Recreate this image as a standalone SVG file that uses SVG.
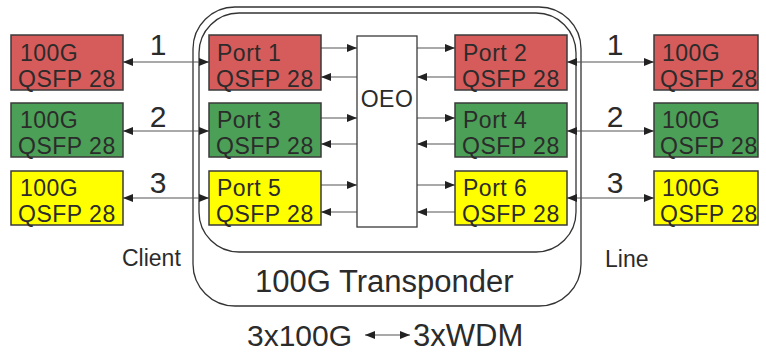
<svg xmlns="http://www.w3.org/2000/svg" width="766" height="356" viewBox="0 0 766 356">
<defs>
<style>
text{font-family:"Liberation Sans",Arial,sans-serif;fill:#2b2b2b}
.bx{stroke:#3a3a3a;stroke-width:1.5}
.red{fill:#d65b5b}.grn{fill:#4b9f56}.yel{fill:#ffff00}
.t{font-size:23px;letter-spacing:0.5px}
.n{font-size:30px}
.c{fill:none;stroke:#555;stroke-width:1.2}
.frame{fill:none;stroke:#333;stroke-width:1.3}
</style>
<marker id="ah" viewBox="0 0 10 8" refX="10" refY="4" markerWidth="10" markerHeight="8" markerUnits="userSpaceOnUse" orient="auto-start-reverse">
<path d="M0,0 L10,4 L0,8 z" fill="#222"/>
</marker>
</defs>
<rect width="766" height="356" fill="#fff"/>
<g id="frames">
<rect class="frame" x="193" y="7" width="388" height="299" rx="42"/>
<rect class="frame" x="199" y="13" width="377" height="239" rx="40"/>
</g>
<g id="connectors">
<line class="c" x1="123" y1="62" x2="209" y2="62" marker-start="url(#ah)" marker-end="url(#ah)"/>
<line class="c" x1="123" y1="131" x2="209" y2="131" marker-start="url(#ah)" marker-end="url(#ah)"/>
<line class="c" x1="123" y1="198" x2="209" y2="198" marker-start="url(#ah)" marker-end="url(#ah)"/>
<line class="c" x1="567" y1="62" x2="654" y2="62" marker-start="url(#ah)" marker-end="url(#ah)"/>
<line class="c" x1="567" y1="131" x2="654" y2="131" marker-start="url(#ah)" marker-end="url(#ah)"/>
<line class="c" x1="567" y1="198" x2="654" y2="198" marker-start="url(#ah)" marker-end="url(#ah)"/>
<line class="c" x1="321" y1="48" x2="357" y2="48" marker-end="url(#ah)"/>
<line class="c" x1="357" y1="77" x2="321" y2="77" marker-end="url(#ah)"/>
<line class="c" x1="321" y1="118" x2="357" y2="118" marker-end="url(#ah)"/>
<line class="c" x1="357" y1="144" x2="321" y2="144" marker-end="url(#ah)"/>
<line class="c" x1="321" y1="185" x2="357" y2="185" marker-end="url(#ah)"/>
<line class="c" x1="357" y1="212" x2="321" y2="212" marker-end="url(#ah)"/>
<line class="c" x1="417" y1="48" x2="455" y2="48" marker-end="url(#ah)"/>
<line class="c" x1="455" y1="77" x2="417" y2="77" marker-end="url(#ah)"/>
<line class="c" x1="417" y1="118" x2="455" y2="118" marker-end="url(#ah)"/>
<line class="c" x1="455" y1="144" x2="417" y2="144" marker-end="url(#ah)"/>
<line class="c" x1="417" y1="185" x2="455" y2="185" marker-end="url(#ah)"/>
<line class="c" x1="455" y1="212" x2="417" y2="212" marker-end="url(#ah)"/>
<line class="c" x1="365" y1="335" x2="410" y2="335" marker-start="url(#ah)" marker-end="url(#ah)"/>
<text class="n" x="158" y="55" text-anchor="middle">1</text>
<text class="n" x="158" y="127" text-anchor="middle">2</text>
<text class="n" x="158" y="193" text-anchor="middle">3</text>
<text class="n" x="615" y="55" text-anchor="middle">1</text>
<text class="n" x="615" y="127" text-anchor="middle">2</text>
<text class="n" x="615" y="193" text-anchor="middle">3</text>
</g>
<g id="c1"><rect class="bx red" x="11" y="35" width="112" height="55"/><text class="t"><tspan x="20" y="61">100G</tspan><tspan x="18" y="87">QSFP 28</tspan></text></g>
<g id="c2"><rect class="bx grn" x="11" y="103" width="112" height="54"/><text class="t"><tspan x="20" y="128">100G</tspan><tspan x="18" y="154">QSFP 28</tspan></text></g>
<g id="c3"><rect class="bx yel" x="11" y="171" width="112" height="54"/><text class="t"><tspan x="20" y="196">100G</tspan><tspan x="18" y="222">QSFP 28</tspan></text></g>
<g id="p1"><rect class="bx red" x="209" y="35" width="112" height="55"/><text class="t"><tspan x="217" y="61">Port 1</tspan><tspan x="216" y="87">QSFP 28</tspan></text></g>
<g id="p3"><rect class="bx grn" x="209" y="103" width="112" height="54"/><text class="t"><tspan x="217" y="128">Port 3</tspan><tspan x="216" y="154">QSFP 28</tspan></text></g>
<g id="p5"><rect class="bx yel" x="209" y="171" width="112" height="54"/><text class="t"><tspan x="217" y="196">Port 5</tspan><tspan x="216" y="222">QSFP 28</tspan></text></g>
<g id="oeo"><rect x="357" y="36" width="60" height="191" fill="#fff" stroke="#3a3a3a" stroke-width="1.3"/><text class="t" x="387" y="107" text-anchor="middle">OEO</text></g>
<g id="p2"><rect class="bx red" x="455" y="35" width="112" height="55"/><text class="t"><tspan x="463" y="61">Port 2</tspan><tspan x="462" y="87">QSFP 28</tspan></text></g>
<g id="p4"><rect class="bx grn" x="455" y="103" width="112" height="54"/><text class="t"><tspan x="463" y="128">Port 4</tspan><tspan x="462" y="154">QSFP 28</tspan></text></g>
<g id="p6"><rect class="bx yel" x="455" y="171" width="112" height="54"/><text class="t"><tspan x="463" y="196">Port 6</tspan><tspan x="462" y="222">QSFP 28</tspan></text></g>
<g id="l1"><rect class="bx red" x="654" y="35" width="104" height="55"/><text class="t"><tspan x="662" y="61">100G</tspan><tspan x="660" y="87">QSFP 28</tspan></text></g>
<g id="l2"><rect class="bx grn" x="654" y="103" width="104" height="54"/><text class="t"><tspan x="662" y="128">100G</tspan><tspan x="660" y="154">QSFP 28</tspan></text></g>
<g id="l3"><rect class="bx yel" x="654" y="171" width="104" height="54"/><text class="t"><tspan x="662" y="196">100G</tspan><tspan x="660" y="222">QSFP 28</tspan></text></g>
<g id="labels">
<text x="122" y="266" font-size="23">Client</text>
<text x="605" y="267" font-size="23">Line</text>
<text x="255" y="292" font-size="31">100G Transponder</text>
<text x="247" y="346" font-size="30">3x100G</text>
<text x="413" y="346" font-size="31">3xWDM</text>
</g>
</svg>
